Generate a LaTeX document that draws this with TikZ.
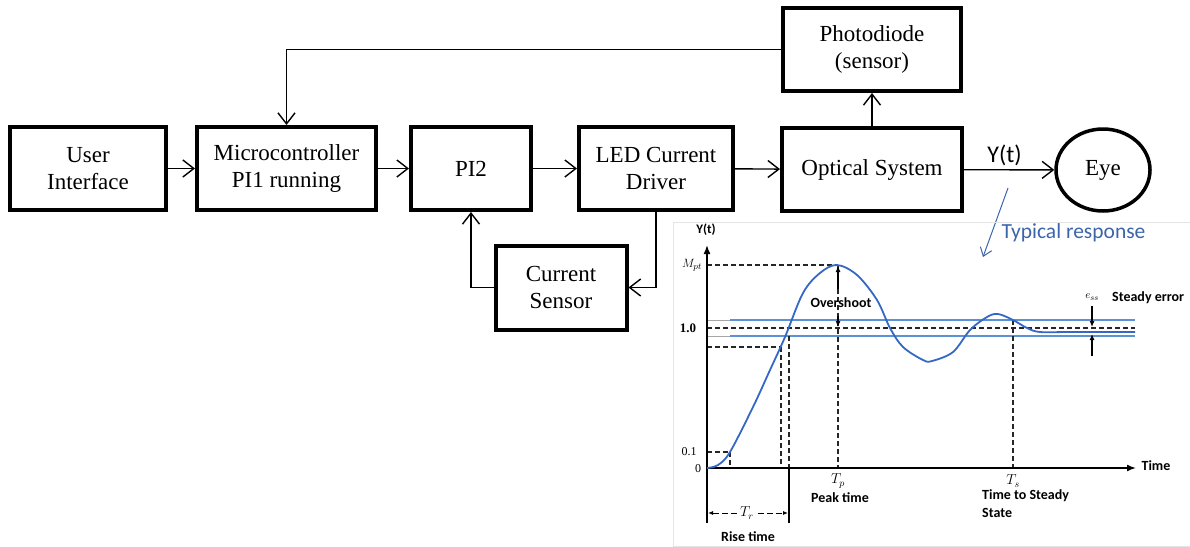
\documentclass[tikz,border=0pt]{standalone}
\usepackage{fontspec}
\setmainfont{Liberation Serif}
\newfontfamily\calib{Carlito}
\usetikzlibrary{arrows.meta,shapes.geometric}
\definecolor{curveblue}{RGB}{52,104,196}
\definecolor{bandblue}{RGB}{90,145,215}
\definecolor{notecol}{RGB}{60,100,170}
\begin{document}
\begin{tikzpicture}[x=1pt,y=-1pt,
  blk/.style={draw, line width=4pt, minimum height=83pt, align=center, inner sep=0pt,
    font=\fontsize{23}{27.5}\selectfont},
  conn/.style={line width=1.4pt, -{Straight Barb[length=11pt,width=17pt]}},
  axis/.style={line width=1.6pt, -{Latex[length=9pt,width=7pt]}},
  dsh/.style={line width=1.1pt, dash pattern=on 5pt off 3pt, black!85},
  small/.style={line width=1.1pt, -{Latex[length=6pt,width=5pt]}},
  lab/.style={font=\calib\bfseries\fontsize{14}{16}\selectfont, inner sep=0pt},
  num/.style={font=\fontsize{13}{15}\selectfont, inner sep=0pt},
]
\useasboundingbox (0,0) rectangle (1190,546);

% ---------- block diagram ----------
\node[blk, minimum width=156pt] (ui) at (88,168.5) {User\\Interface};
\node[blk, minimum width=179pt] (micro) at (286.5,168.5) {Microcontroller\\PI1 running};
\node[blk, minimum width=120pt] (pi2) at (471,168.5) {PI2};
\node[blk, minimum width=154pt] (led) at (656,168.5) {LED Current\\Driver};
\node[blk, minimum width=180pt] (opt) at (872,169.5) {Optical System};
\node[blk, minimum width=178pt] (photo) at (872,49.5) {Photodiode\\(sensor)};
\node[blk, minimum width=131pt, minimum height=84pt] (cs) at (561,287.5) {Current\\Sensor};
\node[draw, ellipse, line width=3.5pt, minimum width=94pt, minimum height=82pt, inner sep=0pt,
  font=\fontsize{23}{27.5}\selectfont] (eye) at (1103,170) {Eye};

\draw[conn] (ui) -- (micro);
\draw[conn] (micro) -- (pi2);
\draw[conn] (pi2) -- (led);
\draw[conn] (led) -- (opt);
\draw[conn] (opt) -- node[pos=0.45, above=3pt, font=\calib\fontsize{24}{26}\selectfont, inner sep=0pt] (ylab) {Y(t)} (eye);
\draw[conn] (opt) -- (photo);
\draw[conn] (photo.west) -| (micro.north);
\draw[conn] (led.south) |- (cs.east);
\draw[conn] (cs.west) -| (pi2.south);

% ---------- annotation ----------
\coordinate (ta) at (1008,188);
\coordinate (tb) at (983,257);
\draw[notecol, line width=1pt, -{Straight Barb[length=8pt,width=12pt]}] (ta) -- (tb);
\node[notecol, font=\calib\fontsize{21.5}{24}\selectfont, inner sep=0pt] (typ) at (1073.5,233) {Typical response};

% ---------- response chart ----------
\draw[black!10, line width=0.8pt] (673,222) rectangle (1190,546);

% bands
\draw[black!35, line width=0.7pt] (707,320) -- (730,320) (707,336) -- (730,336);
\draw[bandblue, line width=1.4pt] (730,320) -- (1135,320);
\draw[bandblue, line width=1.4pt] (730,336) -- (1135,336);

% dashed guides
\draw[dsh] (707,265) -- (838,265);
\draw[dsh] (707,328) -- (1135,328);
\draw[dsh] (707,347) -- (781,347);
\draw[dsh] (707,452) -- (730,452);
\draw[dsh] (730,452) -- (730,468);
\draw[dsh] (781,347) -- (781,468);
\draw[dsh] (789,336) -- (789,468);
\draw[dsh] (838,265) -- (838,468);
\draw[dsh] (1013,320) -- (1013,468);

% axes
\draw[axis] (707,468) -- (707,245);
\draw[axis] (707,468) -- (1136,468);
\draw[line width=1.2pt] (707,468) -- (707,523);
\draw[line width=1.2pt] (789,468) -- (789,523);

% rise time bracket
\draw[line width=0.9pt, dash pattern=on 6pt off 3pt, {Latex[length=5pt,width=4pt]}-{Latex[length=5pt,width=4pt]}] (708,513) -- (788,513);
\node[fill=white, inner sep=1pt, font=\fontsize{14}{16}\selectfont] (tr) at (747,513) {$T_r$};

% curve
\draw[curveblue, line width=1.8pt] plot[smooth, tension=0.55] coordinates {
 (707,468) (718,465) (730,452) (753,407) (770,370) (785,337) (803,293) (820,273)
 (837,265) (857,275) (877,300) (890,328) (903,347) (923,360) (932,361) (953,352)
 (970,330) (987,317) (998,314) (1013,320) (1027,328) (1040,332) (1070,332) (1135,332)};

% overshoot arrows
\coordinate (o1) at (838,289);
\coordinate (o2) at (838,266);
\coordinate (o3) at (838,316);
\coordinate (o4) at (838,327);
\draw[small] (o1) -- (o2);
\draw[small] (o3) -- (o4);
\node[lab] (ovs) at (841,303) {Overshoot};

% steady error arrows
\coordinate (e1) at (1092,306);
\coordinate (e2) at (1092,327);
\coordinate (e3) at (1092,356);
\coordinate (e4) at (1092,334);
\draw[small] (e1) -- (e2);
\draw[small] (e3) -- (e4);
\node[font=\fontsize{11}{12}\selectfont, inner sep=0pt] (ess) at (1092,297) {$e_{ss}$};
\node[lab, anchor=west] (sterr) at (1112,298) {Steady error};

% axis labels
\node[lab, font=\calib\bfseries\fontsize{13}{15}\selectfont] (ylab2) at (706,230) {Y(t)};
\node[lab] (time) at (1156,466) {Time};
\node[num] (mpt) at (692,265) {$M_{pt}$};
\node[num, font=\bfseries\fontsize{13}{15}\selectfont] (one) at (688,328) {1.0};
\node[num, font=\fontsize{12}{14}\selectfont] (pt1) at (689,452) {0.1};
\node[num, font=\fontsize{12}{14}\selectfont] (zero) at (698,469) {0};
\node[num, font=\fontsize{14}{16}\selectfont] (tp) at (838,481) {$T_p$};
\node[num, font=\fontsize{14}{16}\selectfont] (ts) at (1013,481) {$T_s$};
\node[lab] (peak) at (840,498) {Peak time};
\node[lab, anchor=west] (tss1) at (982,496) {Time to Steady};
\node[lab, anchor=west] (tss2) at (982,513) {State};
\node[lab] (rise) at (748,537) {Rise time};
\end{tikzpicture}
\end{document}
